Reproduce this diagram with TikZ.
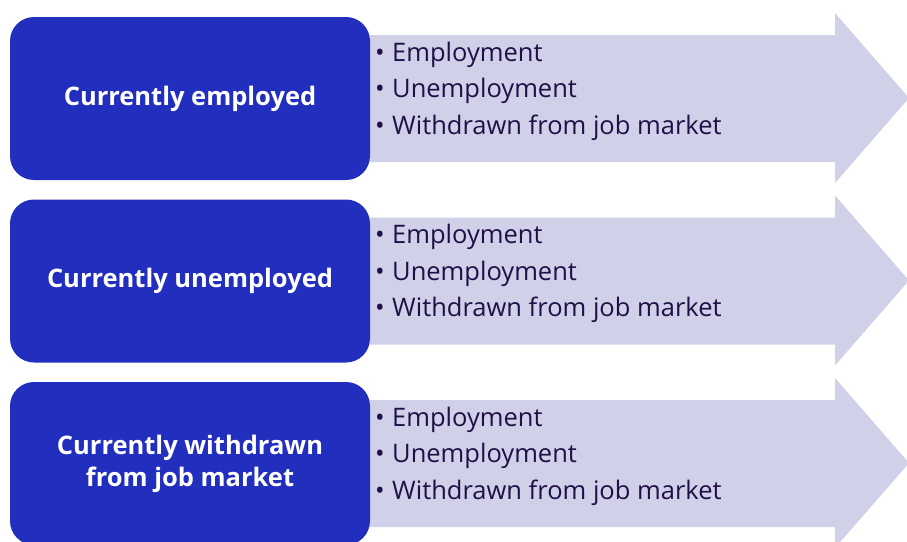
\documentclass[tikz,border=0pt]{standalone}
\usepackage{fontspec}
\setmainfont{Open Sans}
\usepackage{xcolor}
\definecolor{boxblue}{RGB}{33,46,190}
\definecolor{lav}{RGB}{208,208,232}
\definecolor{ink}{RGB}{32,16,72}
\newcommand{\itm}[1]{\makebox[17pt][l]{•}#1}

\begin{document}
\begin{tikzpicture}[x=1pt,y=-1pt]
\tikzset{StateBox/.style={fill=boxblue, rounded corners=24pt, minimum width=360pt, minimum height=163pt,
  text=white, font=\fontsize{25.5}{32}\selectfont\bfseries, align=center, inner sep=0pt}}
\tikzset{Outcomes/.style={anchor=west, text=ink, font=\fontsize{25.5}{36.5}\selectfont, align=left, inner sep=0pt}}
\useasboundingbox (0,0) rectangle (907,541);
\foreach \t/\lab/\nm in {17/{Currently employed}/emp, 199.5/{Currently unemployed}/unemp,
  382/{Currently withdrawn\\from job market}/wdr}{
  \fill[lav] (370,\t+18) -- (835,\t+18) -- (835,\t-4) -- (909,\t+81) -- (835,\t+166) -- (835,\t+145) -- (370,\t+145) -- cycle;
  \node[StateBox] (\nm) at (190,\t+81.5) {\lab};
  \node[Outcomes] (\nm-o) at (375,\t+74) {\itm{Employment}\\\itm{Unemployment}\\\itm{Withdrawn from job market}};
}
\end{tikzpicture}
\end{document}
